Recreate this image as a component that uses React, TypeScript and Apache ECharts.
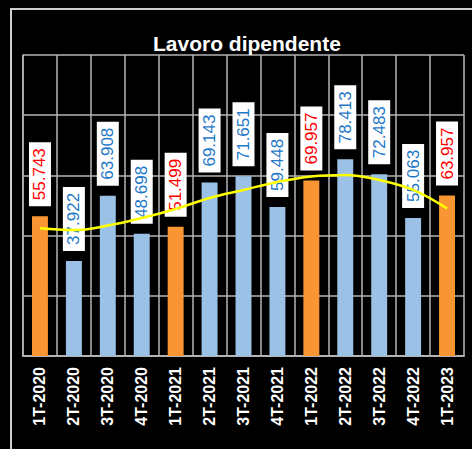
import React, { useEffect, useRef } from "react";
import * as echarts from "echarts";

const categories = [
  "1T-2020", "2T-2020", "3T-2020", "4T-2020",
  "1T-2021", "2T-2021", "3T-2021", "4T-2021",
  "1T-2022", "2T-2022", "3T-2022", "4T-2022",
  "1T-2023",
];
const values = [
  55.743, 37.922, 63.908, 48.698,
  51.499, 69.143, 71.651, 59.448,
  69.957, 78.413, 72.483, 55.063,
  63.957,
];
const trend = [50.9, 50.2, 52.0, 55.0, 58.6, 63.0, 66.2, 69.4, 71.6, 72.2, 70.2, 66.2, 58.8];
const titleText = "Lavoro dipendente";

const ORANGE = "#F99633";
const BLUE = "#9BC2E6";
const RED_TXT = "#FF0000";
const BLUE_TXT = "#1E78C8";
const GRIDC = "#b4b4b4";

export default function App() {
  const ref = useRef<HTMLDivElement>(null);
  useEffect(() => {
    document.body.style.margin = "0";
    document.body.style.background = "#000";
    const chart = echarts.init(ref.current!, null, { renderer: "svg" });
    const isFirst = (c: string) => c.startsWith("1T");
    chart.setOption({
      animation: false,
      backgroundColor: "#000",
      title: {
        text: titleText,
        left: 148,
        top: 28,
        textStyle: { color: "#fff", fontSize: 21, fontWeight: "bold", fontFamily: "Liberation Sans" },
      },
      graphic: [
        {
          type: "rect",
          shape: { x: 11, y: 9, width: 480, height: 480 },
          style: { fill: "none", stroke: "#cfcfcf", lineWidth: 2 },
          silent: true,
        },
      ],
      grid: { left: 23, right: 8, top: 55, bottom: 93 },
      xAxis: {
        type: "category",
        data: categories,
        axisTick: { show: false },
        axisLine: { show: true, lineStyle: { color: GRIDC, width: 2 } },
        splitLine: { show: true, lineStyle: { color: GRIDC, width: 1.5 } },
        axisLabel: {
          rotate: 90,
          margin: 11,
          color: "#fff",
          fontSize: 16,
          fontWeight: "bold",
          fontFamily: "Liberation Sans",
          interval: 0,
        },
      },
      yAxis: {
        type: "value",
        min: 0,
        max: 120,
        interval: 24,
        axisLabel: { show: false },
        axisTick: { show: false },
        axisLine: { show: true, lineStyle: { color: GRIDC, width: 1.5 } },
        splitLine: { show: true, lineStyle: { color: GRIDC, width: 1.5 } },
      },
      series: [
        {
          type: "bar",
          barWidth: "47%",
          z: 2,
          data: values.map((v, i) => ({
            value: v,
            itemStyle: { color: isFirst(categories[i]) ? ORANGE : BLUE },
            label: { color: isFirst(categories[i]) ? RED_TXT : BLUE_TXT },
          })),
          label: {
            show: true,
            position: "top",
            distance: 10,
            rotate: 90,
            align: "left",
            verticalAlign: "middle",
            fontSize: 17,
            fontFamily: "Liberation Sans",
            backgroundColor: "#fff",
            padding: [3, 6, 2, 6],
            formatter: (p: any) => Number(p.value).toFixed(3),
          },
        },
        {
          type: "line",
          data: trend,
          smooth: 0.4,
          symbol: "none",
          z: 10,
          lineStyle: { color: "#FFFF00", width: 2.5 },
        },
      ],
    });
    return () => chart.dispose();
  }, []);
  return <div ref={ref} style={{ width: 472, height: 449, background: "#000" }} />;
}
